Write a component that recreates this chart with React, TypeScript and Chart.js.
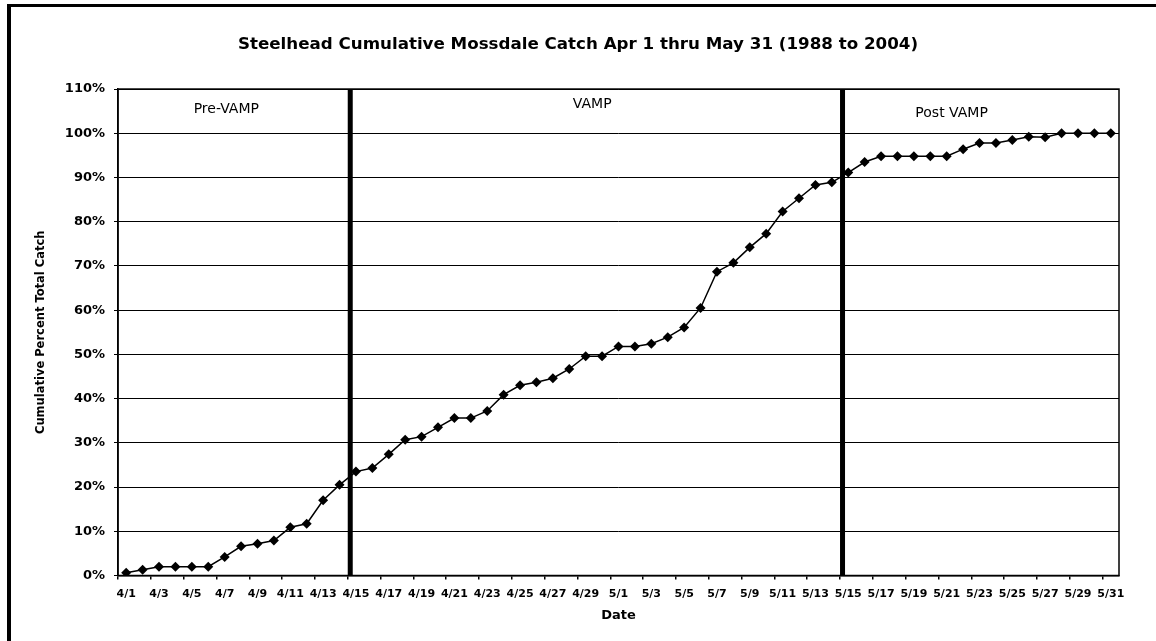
import React, { useEffect, useRef } from 'react';
import { Chart, registerables } from 'chart.js';

Chart.register(...registerables);

// ---------- data ----------
const dates = [
  '4/1', '4/2', '4/3', '4/4', '4/5', '4/6', '4/7', '4/8', '4/9', '4/10',
  '4/11', '4/12', '4/13', '4/14', '4/15', '4/16', '4/17', '4/18', '4/19', '4/20',
  '4/21', '4/22', '4/23', '4/24', '4/25', '4/26', '4/27', '4/28', '4/29', '4/30',
  '5/1', '5/2', '5/3', '5/4', '5/5', '5/6', '5/7', '5/8', '5/9', '5/10',
  '5/11', '5/12', '5/13', '5/14', '5/15', '5/16', '5/17', '5/18', '5/19', '5/20',
  '5/21', '5/22', '5/23', '5/24', '5/25', '5/26', '5/27', '5/28', '5/29', '5/30', '5/31',
];

const aprilPercent = [
  0.6, 1.3, 2.0, 2.0, 2.0, 2.0, 4.2, 6.6, 7.2, 7.9,
  10.9, 11.7, 17.0, 20.5, 23.5, 24.3, 27.4, 30.7, 31.4, 33.5,
  35.6, 35.6, 37.2, 40.9, 43.0, 43.7, 44.6, 46.7, 49.6, 49.6,
];

const mayPercent = [
  51.8, 51.8, 52.4, 53.9, 56.1, 60.5, 68.7, 70.7, 74.2, 77.3,
  82.3, 85.3, 88.3, 88.9, 91.1, 93.5, 94.8, 94.8, 94.8, 94.8,
  94.8, 96.4, 97.8, 97.8, 98.5, 99.2, 99.1, 100, 100, 100, 100,
];

const cumulativePercent = [...aprilPercent, ...mayPercent];

// period boundaries (first day of VAMP, first day of Post VAMP)
const periodStarts = ['4/15', '5/15'];
const periodNames = ['Pre-VAMP', 'VAMP', 'Post VAMP'];

const yMin = 0;
const yMax = 110;
const yStep = 10;

const chartTitle = 'Steelhead Cumulative Mossdale Catch Apr 1 thru May 31 (1988 to 2004)';
const xTitle = 'Date';
const yTitle = 'Cumulative Percent Total Catch';

// label anchors in axis units (category index, percent)
const periodLabelX = [6.1, 28.4, 50.3];
const periodLabelY = [105.3, 106.6, 104.4];

const FONT = '"DejaVu Sans", "Liberation Sans", Arial, sans-serif';

const periodPlugin = {
  id: 'periodPlugin',
  beforeDatasetsDraw(chart: any) {
    const { ctx, chartArea: a, scales } = chart;
    const x = scales.x;
    const y = scales.y;
    ctx.save();
    // plot area border
    ctx.strokeStyle = '#000';
    ctx.lineWidth = 1.5;
    ctx.strokeRect(a.left, a.top, a.right - a.left, a.bottom - a.top);
    // period divider lines
    ctx.fillStyle = '#000';
    periodStarts.forEach((d) => {
      const i = dates.indexOf(d);
      const px = x.getPixelForValue(i - 0.5);
      ctx.fillRect(px, a.top, 5, a.bottom - a.top);
    });
    // period names
    ctx.font = `14px ${FONT}`;
    ctx.textAlign = 'center';
    ctx.textBaseline = 'middle';
    periodNames.forEach((t, k) => {
      ctx.fillText(t, x.getPixelForValue(periodLabelX[k]), y.getPixelForValue(periodLabelY[k]));
    });
    ctx.restore();
  },
};

export default function App() {
  const canvasRef = useRef<HTMLCanvasElement | null>(null);

  useEffect(() => {
    if (!canvasRef.current) return;
    const chart = new Chart(canvasRef.current, {
      type: 'line',
      data: {
        labels: dates,
        datasets: [
          {
            label: 'Cumulative Percent',
            data: cumulativePercent,
            borderColor: '#000',
            borderWidth: 1.5,
            backgroundColor: '#000',
            pointStyle: 'rectRot',
            pointRadius: 5,
            pointBackgroundColor: '#000',
            pointBorderColor: '#000',
            pointBorderWidth: 0,
            tension: 0,
            fill: false,
            yAxisID: 'y',
          },
        ],
      },
      options: {
        responsive: false,
        animation: false,
        devicePixelRatio: 1,
        layout: { padding: { top: 0, left: 0, right: 0, bottom: 0 } },
        plugins: {
          legend: { display: false },
          tooltip: { enabled: false },
          title: {
            display: true,
            text: chartTitle,
            color: '#000',
            font: { family: FONT, size: 16.7, weight: 'bold' },
            padding: { top: 35, bottom: 34 },
          },
        },
        scales: {
          x: {
            type: 'category',
            offset: true,
            grid: {
              offset: true,
              drawOnChartArea: false,
              drawTicks: true,
              tickLength: 4,
              lineWidth: 1.5,
              color: (c: any) => (c.index % 2 === 0 ? '#000' : 'rgba(0,0,0,0)'),
            },
            border: { display: true, color: '#000', width: 1.5 },
            ticks: {
              autoSkip: false,
              maxRotation: 0,
              minRotation: 0,
              padding: 8,
              color: '#000',
              font: { family: FONT, size: 11, weight: 'bold' },
              callback: (_v: any, i: number) => (i % 2 === 0 ? dates[i] : ''),
            },
            title: {
              display: true,
              text: xTitle,
              color: '#000',
              font: { family: FONT, size: 13, weight: 'bold' },
              padding: { top: 0, bottom: 18 },
            },
            afterFit: (s: any) => {
              s.height = 65.5;
            },
          },
          y: {
            min: yMin,
            max: yMax,
            grid: {
              color: '#000',
              lineWidth: 1,
              drawTicks: true,
              tickLength: 4,
            },
            border: { display: true, color: '#000', width: 1.5 },
            ticks: {
              stepSize: yStep,
              padding: 9,
              color: '#000',
              font: { family: FONT, size: 13, weight: 'bold' },
              callback: (v: any) => `${v}%`,
            },
            title: {
              display: true,
              text: yTitle,
              color: '#000',
              font: { family: FONT, size: 11.5, weight: 'bold' },
              padding: { top: 34, bottom: 0 },
            },
            afterFit: (s: any) => {
              s.width = 118;
            },
          },
          yRight: {
            position: 'right',
            display: true,
            min: yMin,
            max: yMax,
            grid: { display: false, drawOnChartArea: false },
            border: { display: false },
            ticks: { display: false },
            afterFit: (s: any) => {
              s.width = 37;
            },
          },
        },
      },
      plugins: [periodPlugin],
    });
    return () => chart.destroy();
  }, []);

  return (
    <div
      style={{
        position: 'fixed',
        left: 0,
        top: 0,
        width: 1156,
        height: 641,
        overflow: 'hidden',
        background: '#fff',
      }}
    >
      <canvas
        ref={canvasRef}
        width={1156}
        height={641}
        style={{ position: 'absolute', left: 0, top: 0, display: 'block' }}
      />
      <div
        style={{
          position: 'absolute',
          left: 7,
          top: 4,
          width: 1200,
          height: 700,
          borderLeft: '4px solid #000',
          borderTop: '3px solid #000',
          pointerEvents: 'none',
        }}
      />
    </div>
  );
}
